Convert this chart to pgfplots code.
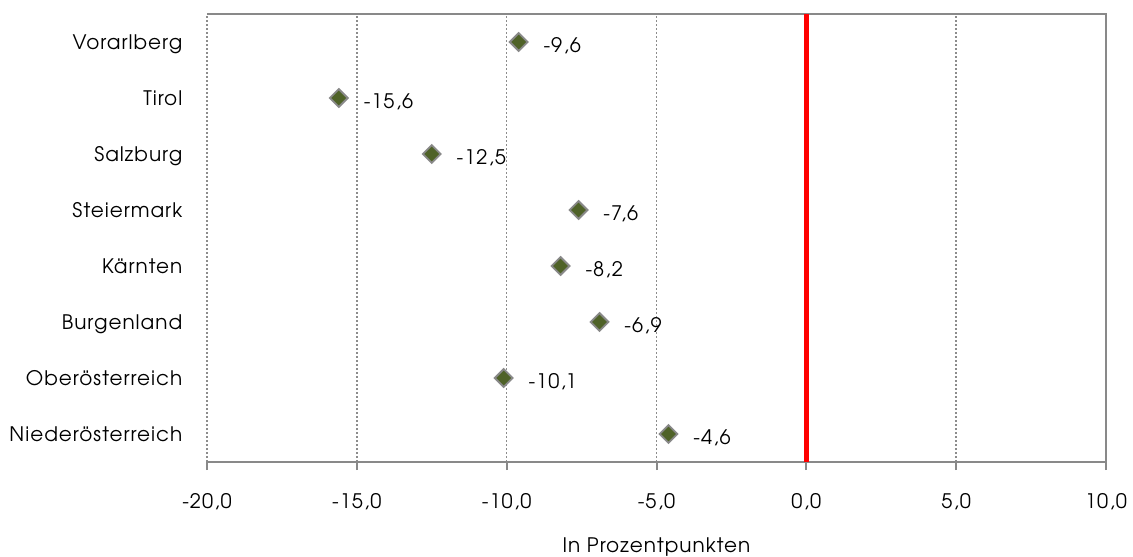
\documentclass[border=0pt]{standalone}
\usepackage{fontspec}
\setmainfont[LetterSpace=5]{TeX Gyre Adventor}
\usepackage{pgfplots}
\pgfplotsset{compat=1.18}
\definecolor{framegray}{HTML}{898989}
\definecolor{gridgray}{HTML}{8C8C8C}
\definecolor{markolive}{HTML}{4F6228}
\newcommand{\lblfont}{\fontsize{20}{23}\selectfont}
\begin{document}
\begin{tikzpicture}
\begin{axis}[
  scale only axis, width=899pt, height=448pt,
  xmin=-20, xmax=10, ymin=-0.5, ymax=7.5,
  xtick={-20,-15,...,10},
  ytick={0,...,7},
  yticklabels={Niederösterreich, Oberösterreich, Burgenland, Kärnten, Steiermark, Salzburg, Tirol, Vorarlberg},
  axis line style={draw=none},
  xmajorgrids,
  major x grid style={gridgray, line width=1.5pt, dash pattern=on 2pt off 2pt},
  tick align=outside, xtick pos=left,
  major tick length=8pt,
  xtick style={framegray, line width=2pt},
  ytick style={draw=none},
  tick label style={font=\lblfont},
  xticklabel style={inner sep=0pt, anchor=base, yshift=-38pt, /pgf/number format/.cd, fixed, fixed zerofill, precision=1, use comma, assume math mode=true},
  yticklabel style={inner sep=0pt, anchor=base east, xshift=-16.5pt, yshift=-7.5pt},
  xlabel={In Prozentpunkten},
  xlabel style={font=\lblfont, at={(axis description cs:0.5,0)}, anchor=base, yshift=-90pt},
  nodes near coords,
  nodes near coords style={font=\lblfont, anchor=base west, inner sep=0pt, xshift=24pt, yshift=-10.5pt,
    /pgf/number format/.cd, fixed, fixed zerofill, precision=1, use comma, assume math mode=true},
  clip=false,
]
\coordinate (sw) at (rel axis cs:0,0);
\coordinate (ne) at (rel axis cs:1,1);
\draw[framegray, line width=2pt] (rel axis cs:0,1) -- (rel axis cs:1,1) -- (rel axis cs:1,0) -- (rel axis cs:0,0);
\addplot[red, line width=5pt, no marks, nodes near coords={}] coordinates {(0,-0.5) (0,7.5)};
\addplot[only marks, mark=square*, mark size=6.3pt,
  mark options={rotate=45, fill=markolive, draw=framegray, line width=1.8pt},
  point meta=x] coordinates {
  (-4.6,0) (-10.1,1) (-6.9,2) (-8.2,3) (-7.6,4) (-12.5,5) (-15.6,6) (-9.6,7)
};
\end{axis}
\pgfresetboundingbox
\path[use as bounding box] ([xshift=-207pt,yshift=-94pt]sw) rectangle ([xshift=27pt,yshift=14pt]ne);
\end{tikzpicture}
\end{document}
